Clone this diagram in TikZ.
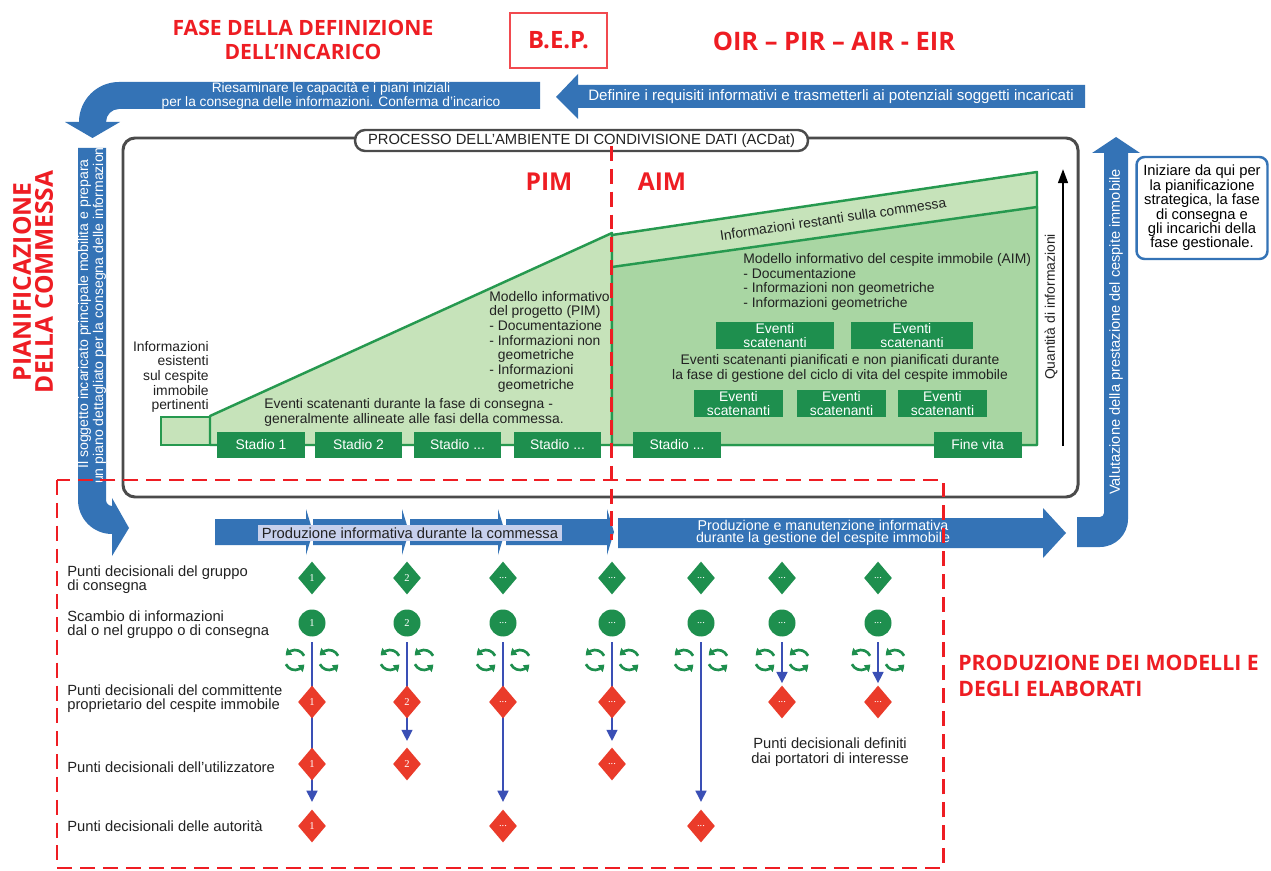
\documentclass[tikz,border=0pt]{standalone}
\usepackage{fontspec}
\setmainfont{Liberation Sans}
\newfontfamily\headfont{Open Sans}
\newfontfamily\numfont{Liberation Serif}
\usetikzlibrary{shapes.geometric,arrows.meta,backgrounds,bending}

\definecolor{bandblue}{HTML}{3473B6}
\definecolor{lineblue}{HTML}{3A4FB5}
\definecolor{dgreen}{HTML}{1E8F4E}
\definecolor{lgreen}{HTML}{C6E3BA}
\definecolor{mgreen}{HTML}{A9D6A3}
\definecolor{egreen}{HTML}{26994F}
\definecolor{hred}{HTML}{EE1D23}
\definecolor{dred}{HTML}{EA3B2A}
\definecolor{boxgray}{HTML}{4B4B4B}
\definecolor{txt}{HTML}{222222}
\definecolor{hilite}{HTML}{C7D0EC}

\newcommand\fsz[2]{\fontsize{#1}{#2}\selectfont}
\newcommand\ddd{...}

\begin{document}
\begin{tikzpicture}[x=0.02cm, y=-0.02cm,
  heading/.style={text=hred, font=\headfont\bfseries\fsz{12}{13.6}, align=center, inner sep=0pt},
  bandtext/.style={text=white, inner sep=0pt, align=center},
  charttext/.style={text=txt, inner sep=0pt, font=\fsz{7.9}{8.35}},
  stadio/.style={fill=dgreen, text=white, minimum width=1.76cm, minimum height=0.52cm, inner sep=0pt, font=\fsz{7.9}{8.3}},
  evento/.style={fill=dgreen, text=white, minimum height=0.54cm, inner sep=0pt, align=center, font=\fsz{7.9}{7.9}},
  marker/.style={inner sep=0pt, text=white, font=\numfont\fsz{6}{6}},
  gdia/.style={marker, diamond, fill=dgreen, minimum width=0.56cm, minimum height=0.66cm},
  rdia/.style={marker, diamond, fill=dred, minimum width=0.56cm, minimum height=0.66cm},
  gdot/.style={marker, circle, fill=dgreen, minimum size=0.54cm},
  flow/.style={lineblue, line width=1.5pt},
  flowarrow/.style={flow, -{Triangle[width=6pt,length=6.5pt]}},
  rowlabel/.style={text=txt, anchor=west, align=left, inner sep=0pt, font=\fsz{8.4}{8}},
  reddash/.style={hred, line width=1.7pt, dash pattern=on 8.5pt off 4.5pt},
  cyc/.style={dgreen, line width=1.5pt, -{Triangle[width=4.6pt,length=3.4pt,bend]}},
  cycleicon/.pic={
    \draw[cyc] (335:10) arc[start angle=335, end angle=205, radius=10];
    \draw[cyc] (155:10) arc[start angle=155, end angle=25, radius=10];
  }
]
\begin{scope}[on background layer]
  \fill[white] (0,0) rectangle (1271,871);
\end{scope}
\useasboundingbox (0,0) rectangle (1271,871);

% ---------- headings ----------
\node[heading] (fase) at (303,40) {FASE DELLA DEFINIZIONE\\DELL’INCARICO};
\node[heading, draw=hred!80, line width=0.8pt, minimum width=1.94cm, minimum height=1.1cm,
      font=\headfont\bfseries\fsz{13.6}{14}] (bep) at (558.5,40.5) {B.E.P.};
\node[heading, font=\headfont\bfseries\fsz{14.5}{15}] (oir) at (834,41) {OIR – PIR – AIR - EIR};
\node[heading, rotate=90, font=\headfont\bfseries\fsz{14}{12.5}] (pian) at (33,282) {PIANIFICAZIONE\\DELLA COMMESSA};

% ---------- top arrows ----------
\fill[bandblue] (1085,85) -- (578,85) -- (578,74) -- (556,97) -- (578,119) -- (578,108) -- (1085,108) -- cycle;
\node[bandtext, font=\fsz{8.6}{9}] (defin) at (831,97)
  {Definire i requisiti informativi e trasmetterli ai potenziali soggetti incaricati};

\fill[bandblue] (540,82) -- (119,82) arc[start angle=270, end angle=180, radius=40]
  -- (65,122) -- (92.5,138) -- (120,122) -- (106,122)
  arc[start angle=180, end angle=270, radius=13] -- (540,109) -- cycle;
\node[bandtext, font=\fsz{7.8}{6.8}] (riesam) at (331,96)
  {Riesaminare le capacità e i piani iniziali\\per la consegna delle informazioni. Conferma d’incarico};

% left band
\fill[bandblue] (78,148) -- (78,500) arc[start angle=180, end angle=90, radius=34]
  -- (112,556) -- (129,528) -- (112,498) -- (112,506)
  arc[start angle=90, end angle=180, radius=6] -- (106,148) -- cycle;
\node[bandtext, rotate=90, font=\fsz{8}{6.8}] (mobil) at (92,314)
  {Il soggetto incaricato principale mobilita e prepara\\un piano dettagliato per la consegna delle informazioni};

% right band
\fill[bandblue] (1077,547) -- (1100,547) arc[start angle=90, end angle=0, radius=28]
  -- (1128,153) -- (1140,153) -- (1116,137) -- (1092,153) -- (1104,153) -- (1104,513)
  arc[start angle=0, end angle=90, radius=4] -- (1077,517) -- cycle;
\node[bandtext, rotate=90, font=\fsz{8.3}{9}] (valut) at (1116,332)
  {Valutazione della prestazione del cespite immobile};

\node[draw=bandblue, line width=1.4pt, rounded corners=0.16cm, minimum width=2.62cm,
      minimum height=2.04cm, align=center, inner sep=0pt, text=black, font=\fsz{8.4}{8.2}] (start) at (1202,208)
  {Iniziare da qui per\\la pianificazione\\strategica, la fase\\di consegna e\\gli incarichi della\\fase gestionale.};

% ---------- common data environment ----------
\draw[boxgray, line width=1.7pt, rounded corners=0.24cm] (123,138) rectangle (1078,497);
\node[draw=boxgray, line width=1.4pt, fill=white, rounded corners=0.2cm, minimum width=9.06cm,
      minimum height=0.42cm, inner sep=0pt, text=txt, font=\fsz{8.4}{9}] (acdat) at (581.5,140.5)
  {PROCESSO DELL’AMBIENTE DI CONDIVISIONE DATI (ACDat)};

% information areas
\filldraw[fill=lgreen, draw=egreen, line width=1.4pt] (161,417) rectangle (210,445);
\filldraw[fill=lgreen, draw=egreen, line width=1.4pt, line join=round]
  (210,445) -- (210,416) -- (612,233) -- (612,445) -- cycle;
\filldraw[fill=lgreen, draw=egreen, line width=1.4pt, line join=round]
  (612,445) -- (612,235) -- (1037,172) -- (1037,445) -- cycle;
\filldraw[fill=mgreen, draw=egreen, line width=1.4pt, line join=round]
  (612,267) -- (1037,207) -- (1037,445) -- (612,445) -- cycle;

\node[charttext, align=right, anchor=east] (esist) at (209,377)
  {Informazioni\\esistenti\\sul cespite\\immobile\\pertinenti};
\node[charttext, align=left, anchor=west] (pimtxt) at (489,341.5)
  {Modello informativo\\del progetto (PIM)\\- Documentazione\\- Informazioni non\\\phantom{- }geometriche\\- Informazioni\\\phantom{- }geometriche};
\node[charttext, align=left, anchor=west] (evcons) at (264,412.5)
  {Eventi scatenanti durante la fase di consegna -\\generalmente allineate alle fasi della commessa.};
\node[charttext, rotate=8.4] (restanti) at (833,219) {Informazioni restanti sulla commessa};
\node[charttext, align=left, anchor=west] (aimtxt) at (743,282)
  {Modello informativo del cespite immobile (AIM)\\- Documentazione\\- Informazioni non geometriche\\- Informazioni geometriche};
\node[charttext, align=center] (evgest) at (840,368.5)
  {Eventi scatenanti pianificati e non pianificati durante\\la fase di gestione del ciclo di vita del cespite immobile};

\node[evento, minimum width=2.36cm] (ev1) at (775,335.5) {Eventi\\scatenanti};
\node[evento, minimum width=2.44cm] (ev2) at (912,335.5) {Eventi\\scatenanti};
\node[evento, minimum width=1.78cm] (ev3) at (738.5,403.5) {Eventi\\scatenanti};
\node[evento, minimum width=1.78cm] (ev4) at (841.5,403.5) {Eventi\\scatenanti};
\node[evento, minimum width=1.78cm] (ev5) at (942.5,403.5) {Eventi\\scatenanti};

\node[stadio] (st1) at (261,445) {Stadio 1};
\node[stadio] (st2) at (358.5,445) {Stadio 2};
\node[stadio] (st3) at (457.5,445) {Stadio ...};
\node[stadio] (st4) at (557.5,445) {Stadio ...};
\node[stadio] (st5) at (677,445) {Stadio ...};
\node[stadio] (st6) at (977.5,445) {Fine vita};

\node[heading, font=\headfont\bfseries\fsz{14}{14}] (pim) at (549,182) {PIM};
\node[heading, font=\headfont\bfseries\fsz{14}{14}] (aim) at (662,182) {AIM};

\coordinate (qbot) at (1063,446);
\coordinate (qtop) at (1063,169);
\draw[black, line width=1.3pt, -{Triangle[width=5.5pt,length=8pt]}] (qbot) -- (qtop);
\node[charttext, rotate=90] (quant) at (1051,307) {Quantità di informazioni};

% ---------- production flow ----------
\foreach \a/\c in {215/310, 313/406, 410/502, 506/611} {
  \fill[bandblue] (\a,519) -- (\c-4,519) -- (\c-4,509) -- (\c+3,532) -- (\c-4,555)
    -- (\c-4,545) -- (\a,545) -- cycle;
}
\node[fill=hilite, inner xsep=2.5pt, inner ysep=0pt, minimum height=0.32cm, text=txt,
      font=\fsz{8.4}{9}] (prodcomm) at (410,533) {Produzione informativa durante la commessa};

\fill[bandblue] (618,518) -- (1043,518) -- (1043,508) -- (1066,533) -- (1043,558)
  -- (1043,548) -- (618,548) -- cycle;
\node[bandtext, font=\fsz{8.1}{7.1}] (prodgest) at (823,533)
  {Produzione e manutenzione informativa\\durante la gestione del cespite immobile};

% ---------- decision points ----------
\foreach \n/\x/\lab in {1/312/1, 2/407/2, 3/503/\ddd, 4/612/\ddd, 5/701/\ddd, 6/782/\ddd, 7/878/\ddd} {
  \node[gdia] (g\n) at (\x,578) {\lab};
  \node[gdot] (c\n) at (\x,623) {\lab};
  \pic at (\x-17,660) {cycleicon};
  \pic at (\x+17,660) {cycleicon};
}

\node[rdia] (ra1) at (312,702) {1};
\node[rdia] (rb1) at (312,764) {1};
\node[rdia] (rc1) at (312,826) {1};
\node[rdia] (ra2) at (407,702) {2};
\node[rdia] (rb2) at (407,764) {2};
\node[rdia] (ra3) at (503,702) {\ddd};
\node[rdia] (rc3) at (503,826) {\ddd};
\node[rdia] (ra4) at (612,702) {\ddd};
\node[rdia] (rb4) at (612,764) {\ddd};
\node[rdia] (rc5) at (701,826) {\ddd};
\node[rdia] (ra6) at (782,702) {\ddd};
\node[rdia] (ra7) at (878,702) {\ddd};

\begin{scope}[on background layer]
  \draw[flow, shorten <=3pt] (c1.south) -- (rb1.center);
  \draw[flowarrow, shorten >=4pt] (rb1.center) -- (rc1.north);
  \draw[flow, shorten <=3pt] (c2.south) -- (ra2.center);
  \draw[flowarrow, shorten >=3.4pt] (ra2.center) -- (rb2.north);
  \draw[flow, shorten <=3pt] (c3.south) -- (ra3.center);
  \draw[flowarrow, shorten >=4pt] (ra3.center) -- (rc3.north);
  \draw[flow, shorten <=3pt] (c4.south) -- (ra4.center);
  \draw[flowarrow, shorten >=3.4pt] (ra4.center) -- (rb4.north);
  \draw[flowarrow, shorten <=3pt, shorten >=4pt] (c5.south) -- (rc5.north);
  \draw[flowarrow, shorten <=3pt, shorten >=1pt] (c6.south) -- (ra6.north);
  \draw[flowarrow, shorten <=3pt, shorten >=1pt] (c7.south) -- (ra7.north);
\end{scope}

\node[rowlabel] (lab1) at (67,580) {Punti decisionali del gruppo\\di consegna};
\node[rowlabel] (lab2) at (67,624.5) {Scambio di informazioni\\dal o nel gruppo o di consegna};
\node[rowlabel] (lab3) at (67,699) {Punti decisionali del committente\\proprietario del cespite immobile};
\node[rowlabel] (lab4) at (67,767) {Punti decisionali dell’utilizzatore};
\node[rowlabel] (lab5) at (67,826) {Punti decisionali delle autorità};

\node[text=txt, align=center, inner sep=0pt, font=\fsz{8.4}{8.4}] (portat) at (830,752.5)
  {Punti decisionali definiti\\dai portatori di interesse};

% ---------- dashed frames ----------
\draw[reddash] (611,146) -- (611,540);
\draw[reddash] (57,480) rectangle (943,868);

\node[heading, align=left, anchor=west, font=\headfont\bfseries\fsz{12.1}{14.7}] (prodmod) at (958,676)
  {PRODUZIONE DEI MODELLI E\\DEGLI ELABORATI};
\end{tikzpicture}
\end{document}
